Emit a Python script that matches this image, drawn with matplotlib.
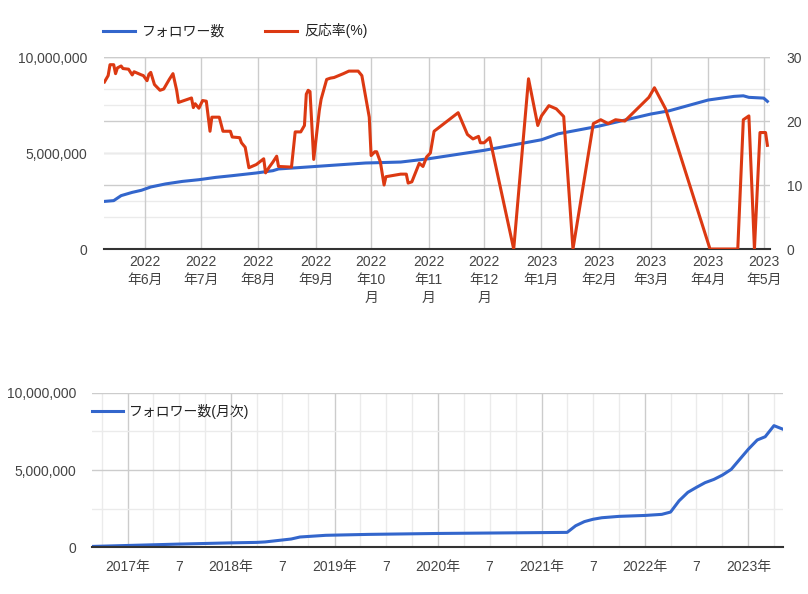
import matplotlib
matplotlib.use("Agg")
import matplotlib.pyplot as plt
import matplotlib.dates as mdates
import pandas as pd
from matplotlib.ticker import FixedLocator, FixedFormatter

plt.rcParams["font.family"] = ["Liberation Sans", "Noto Sans CJK JP"]
plt.rcParams["font.size"] = 10

BLUE = "#3366cc"
RED = "#dc3912"
TICK_COLOR = "#444444"
MAJOR_GRID = "#cccccc"
MINOR_GRID = "#ebebeb"

# --- top chart: daily followers and reaction rate ---
follower_dates = [
    "2022-05-10", "2022-05-15", "2022-05-19", "2022-05-25", "2022-05-30", "2022-06-04",
    "2022-06-12", "2022-06-21", "2022-06-30", "2022-07-09", "2022-07-18", "2022-07-31",
    "2022-08-09", "2022-08-12", "2022-08-23", "2022-09-10", "2022-09-28", "2022-10-17",
    "2022-11-01", "2022-12-01", "2023-01-01", "2023-01-10", "2023-02-01", "2023-03-01",
    "2023-03-11", "2023-04-01", "2023-04-15", "2023-04-20", "2023-04-23", "2023-05-01",
    "2023-05-03",
]
follower_values = [
    2.48e6, 2.52e6, 2.78e6, 2.95e6, 3.06e6, 3.23e6,
    3.39e6, 3.52e6, 3.61e6, 3.73e6, 3.82e6, 3.96e6,
    4.08e6, 4.17e6, 4.24e6, 4.36e6, 4.48e6, 4.53e6,
    4.70e6, 5.14e6, 5.69e6, 6.00e6, 6.40e6, 7.03e6,
    7.20e6, 7.76e6, 7.95e6, 7.98e6, 7.90e6, 7.86e6,
    7.69e6,
]

rate_dates = [
    "2022-05-10", "2022-05-12", "2022-05-13", "2022-05-15", "2022-05-16", "2022-05-17",
    "2022-05-19", "2022-05-20", "2022-05-23", "2022-05-25", "2022-05-26", "2022-05-30",
    "2022-05-31", "2022-06-02", "2022-06-03", "2022-06-04", "2022-06-06", "2022-06-09",
    "2022-06-11", "2022-06-14", "2022-06-16", "2022-06-18", "2022-06-19", "2022-06-21",
    "2022-06-23", "2022-06-26", "2022-06-27", "2022-06-28", "2022-06-30", "2022-07-02",
    "2022-07-04", "2022-07-06", "2022-07-07", "2022-07-11", "2022-07-13", "2022-07-17",
    "2022-07-18", "2022-07-22", "2022-07-23", "2022-07-25", "2022-07-27", "2022-07-31",
    "2022-08-04", "2022-08-05", "2022-08-07", "2022-08-09", "2022-08-11", "2022-08-12",
    "2022-08-19", "2022-08-21", "2022-08-24", "2022-08-26", "2022-08-27", "2022-08-28",
    "2022-08-29", "2022-08-31", "2022-09-03", "2022-09-04", "2022-09-07", "2022-09-09",
    "2022-09-11", "2022-09-16", "2022-09-19", "2022-09-24", "2022-09-26", "2022-09-30",
    "2022-10-01", "2022-10-03", "2022-10-04", "2022-10-06", "2022-10-08", "2022-10-09",
    "2022-10-13", "2022-10-17", "2022-10-20", "2022-10-21", "2022-10-23", "2022-10-27",
    "2022-10-29", "2022-10-31", "2022-11-02", "2022-11-04", "2022-11-17", "2022-11-22",
    "2022-11-25", "2022-11-28", "2022-11-29", "2022-12-01", "2022-12-04", "2022-12-17",
    "2022-12-25", "2022-12-30", "2023-01-01", "2023-01-05", "2023-01-09", "2023-01-13",
    "2023-01-18", "2023-01-29", "2023-02-02", "2023-02-06", "2023-02-10", "2023-02-15",
    "2023-02-28", "2023-03-03", "2023-03-09", "2023-04-02", "2023-04-17", "2023-04-20",
    "2023-04-23", "2023-04-26", "2023-04-29", "2023-05-02", "2023-05-03",
]
rate_values = [
    26.1, 27.1, 28.8, 28.8, 27.4, 28.3,
    28.6, 28.2, 28.1, 27.2, 27.7, 27.2,
    27.1, 26.3, 27.3, 27.6, 25.7, 24.8,
    25.0, 26.5, 27.4, 24.8, 22.9, 23.1,
    23.3, 23.6, 22.1, 22.7, 22.0, 23.2,
    23.1, 18.4, 20.6, 20.6, 18.4, 18.4,
    17.5, 17.4, 16.6, 15.9, 12.7, 13.2,
    14.1, 11.9, 12.8, 13.6, 14.5, 12.9,
    12.8, 18.3, 18.3, 19.3, 24.2, 24.8,
    24.6, 14.0, 21.6, 23.4, 26.5, 26.7,
    26.8, 27.4, 27.8, 27.8, 27.1, 20.6,
    14.6, 15.2, 15.2, 13.6, 10.0, 11.3,
    11.5, 11.7, 11.7, 10.3, 10.5, 13.4,
    12.9, 14.4, 15.0, 18.4, 21.3, 17.9,
    17.2, 17.6, 16.6, 16.6, 17.4, 0.0,
    26.6, 19.3, 20.8, 22.4, 21.9, 20.7,
    0.0, 19.6, 20.2, 19.6, 20.2, 20.0,
    23.7, 25.2, 21.9, 0.0, 0.0, 20.2,
    20.8, 0.0, 18.2, 18.2, 16.2,
]

top_month_ticks = [
    "2022-06-01", "2022-07-01", "2022-08-01", "2022-09-01", "2022-10-01", "2022-11-01",
    "2022-12-01", "2023-01-01", "2023-02-01", "2023-03-01", "2023-04-01", "2023-05-01",
]
top_month_labels = [
    "2022\n年6月", "2022\n年7月", "2022\n年8月", "2022\n年9月", "2022\n年10\n月", "2022\n年11\n月",
    "2022\n年12\n月", "2023\n年1月", "2023\n年2月", "2023\n年3月", "2023\n年4月", "2023\n年5月",
]
left_ticks = [0, 5_000_000, 10_000_000]
left_minor = [2_500_000, 7_500_000]
right_ticks = [0, 10, 20, 30]
right_minor = [5, 15, 25]

# --- bottom chart: monthly followers ---
monthly_dates = [
    "2016-09-01", "2017-01-01", "2017-07-01", "2018-01-01", "2018-04-01", "2018-05-01",
    "2018-08-01", "2018-09-01", "2018-12-01", "2019-05-01", "2020-01-01", "2021-04-01",
    "2021-05-01", "2021-06-01", "2021-07-01", "2021-08-01", "2021-10-01", "2022-01-01",
    "2022-03-01", "2022-04-01", "2022-05-01", "2022-06-01", "2022-07-01", "2022-08-01",
    "2022-09-01", "2022-10-01", "2022-11-01", "2022-12-01", "2023-01-01", "2023-02-01",
    "2023-03-01", "2023-04-01", "2023-05-01",
]
monthly_values = [
    0.04e6, 0.10e6, 0.19e6, 0.27e6, 0.30e6, 0.33e6,
    0.52e6, 0.65e6, 0.76e6, 0.82e6, 0.88e6, 0.95e6,
    1.38e6, 1.65e6, 1.80e6, 1.90e6, 1.99e6, 2.05e6,
    2.12e6, 2.27e6, 3.00e6, 3.55e6, 3.87e6, 4.18e6,
    4.39e6, 4.67e6, 5.04e6, 5.69e6, 6.36e6, 6.95e6,
    7.16e6, 7.88e6, 7.66e6,
]
year_ticks = ["2017-01-01", "2018-01-01", "2019-01-01", "2020-01-01", "2021-01-01", "2022-01-01", "2023-01-01"]
year_labels = ["2017年", "2018年", "2019年", "2020年", "2021年", "2022年", "2023年"]
quarter_ticks = [
    "2016-10-01", "2017-04-01", "2017-07-01", "2017-10-01", "2018-04-01", "2018-07-01",
    "2018-10-01", "2019-04-01", "2019-07-01", "2019-10-01", "2020-04-01", "2020-07-01",
    "2020-10-01", "2021-04-01", "2021-07-01", "2021-10-01", "2022-04-01", "2022-07-01",
    "2022-10-01", "2023-04-01",
]


def fmt_num(v):
    return f"{int(v):,}"


def to_num(dates):
    return mdates.date2num(pd.to_datetime(dates))


def style_axis(ax):
    for side in ("top", "left", "right"):
        ax.spines[side].set_visible(False)
    ax.spines["bottom"].set_color("#333333")
    ax.spines["bottom"].set_linewidth(1.5)
    ax.spines["bottom"].set_zorder(5)
    ax.tick_params(which="both", length=0, colors=TICK_COLOR, labelsize=10)


fig = plt.figure(figsize=(8.08, 5.94), dpi=100)

# top chart
ax = fig.add_axes([0.1287, 0.5808, 0.8243, 0.3232])
ax2 = ax.twinx()
style_axis(ax)
style_axis(ax2)
ax2.spines["bottom"].set_visible(False)

ax.set_ylim(left_ticks[0], left_ticks[-1])
ax2.set_ylim(right_ticks[0], right_ticks[-1])
ax.set_xlim(pd.Timestamp("2022-05-09 18:00"), pd.Timestamp("2023-05-04 10:00"))

ax.yaxis.set_major_locator(FixedLocator(left_ticks))
ax.yaxis.set_major_formatter(FixedFormatter([fmt_num(v) for v in left_ticks]))
ax2.yaxis.set_major_locator(FixedLocator(right_ticks))
ax2.yaxis.set_major_formatter(FixedFormatter([str(v) for v in right_ticks]))
ax.tick_params(axis="y", pad=12)
ax2.tick_params(axis="y", pad=12)

ax.xaxis.set_major_locator(FixedLocator(to_num(top_month_ticks)))
ax.xaxis.set_major_formatter(FixedFormatter(top_month_labels))
ax.tick_params(axis="x", pad=4)
for lbl in ax.get_xticklabels():
    lbl.set_linespacing(1.4)
    lbl.set_verticalalignment("top")

# grid lines from both scales, drawn under the lines
scale = left_ticks[-1] / right_ticks[-1]
for v in left_ticks[1:]:
    ax.axhline(v, color=MAJOR_GRID, lw=1, zorder=0)
for v in right_ticks[1:]:
    ax.axhline(v * scale, color=MAJOR_GRID, lw=1, zorder=0)
for v in left_minor:
    ax.axhline(v, color=MINOR_GRID, lw=1, zorder=0)
for v in right_minor:
    ax.axhline(v * scale, color=MINOR_GRID, lw=1, zorder=0)
for d in to_num(top_month_ticks):
    ax.axvline(d, color=MAJOR_GRID, lw=1, zorder=0)

ax.plot(pd.to_datetime(follower_dates), follower_values, color=BLUE, lw=2.2, zorder=3,
        label="フォロワー数", solid_joinstyle="round")
ax2.plot(pd.to_datetime(rate_dates), rate_values, color=RED, lw=2.2, zorder=3,
         label="反応率(%)", solid_joinstyle="round")

h1, l1 = ax.get_legend_handles_labels()
h2, l2 = ax2.get_legend_handles_labels()
fig.legend(h1 + h2, l1 + l2, loc="center left", bbox_to_anchor=(0.112, 0.948), ncol=2,
           frameon=False, fontsize=10, handlelength=2.3, handletextpad=0.5, columnspacing=2.9,
           labelcolor="#222222")

# bottom chart
bx = fig.add_axes([0.1139, 0.0791, 0.8552, 0.2593])
style_axis(bx)
bx.set_ylim(left_ticks[0], left_ticks[-1])
bx.set_xlim(pd.Timestamp("2016-08-28"), pd.Timestamp("2023-05-03"))
bx.yaxis.set_major_locator(FixedLocator(left_ticks))
bx.yaxis.set_major_formatter(FixedFormatter([fmt_num(v) for v in left_ticks]))
bx.yaxis.set_minor_locator(FixedLocator(left_minor))
bx.tick_params(axis="y", pad=11.5)
bx.grid(True, axis="y", which="major", color=MAJOR_GRID, lw=1, zorder=0)
bx.grid(True, axis="y", which="minor", color=MINOR_GRID, lw=1, zorder=0)

bx.xaxis.set_major_locator(FixedLocator(to_num(year_ticks)))
bx.xaxis.set_major_formatter(FixedFormatter(year_labels))
bx.xaxis.set_minor_locator(FixedLocator(to_num(quarter_ticks)))
bx.xaxis.set_minor_formatter(FixedFormatter(
    ["7" if q.endswith("-07-01") else "" for q in quarter_ticks]))
bx.tick_params(axis="x", which="both", pad=9)
bx.grid(True, axis="x", which="major", color=MAJOR_GRID, lw=1, zorder=0)
bx.grid(True, axis="x", which="minor", color=MINOR_GRID, lw=1, zorder=0)
bx.set_axisbelow(True)

bx.plot(pd.to_datetime(monthly_dates), monthly_values, color=BLUE, lw=2.2, zorder=3,
        label="フォロワー数(月次)", solid_joinstyle="round")
bx.legend(loc="upper left", bbox_to_anchor=(-0.018, 1.011), frameon=False, fontsize=10,
          handlelength=2.2, handletextpad=0.45, labelcolor="#222222")

fig.savefig("out.png", dpi=100)
